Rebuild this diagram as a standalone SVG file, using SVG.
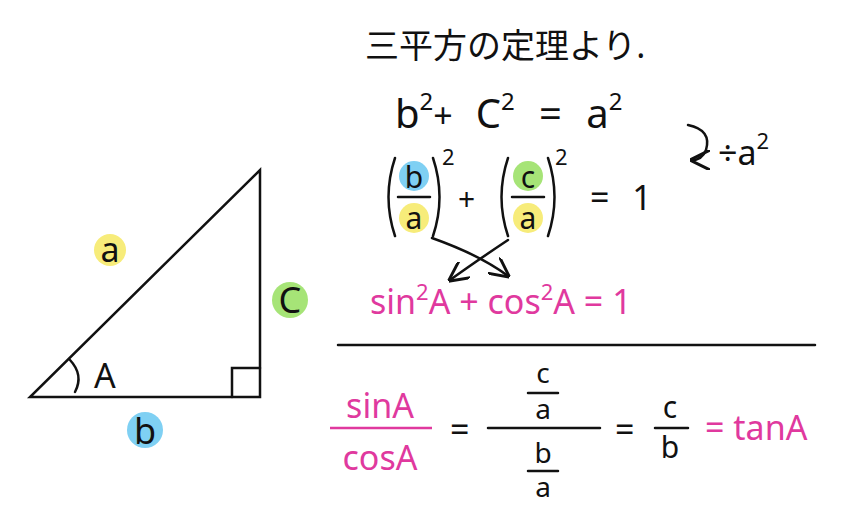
<svg xmlns="http://www.w3.org/2000/svg" width="848" height="510" viewBox="0 0 848 510">
<style>
.k{font-family:"Noto Sans","Noto Sans CJK JP",sans-serif;fill:#111}
.m{font-family:"Noto Sans",sans-serif;fill:#e0399e}
.ln{stroke:#111;stroke-width:2.5;fill:none;stroke-linecap:round}
.ml{stroke:#e0399e;stroke-width:2.5;fill:none}
</style>
<defs><marker id="ar" viewBox="0 0 10 10" refX="9" refY="5" markerWidth="8" markerHeight="8" orient="auto"><path d="M0,0L10,5L0,10" fill="none" stroke="#111" stroke-width="1.5"/></marker></defs>
<rect width="848" height="510" fill="#fff"/>
<g id="triangle">
<path class="ln" d="M30,397 L260,397 L260,170 Z"/>
<path class="ln" d="M232,397 V368 H260"/>
<path class="ln" d="M70,360 Q84,375 75,392"/>
<text class="k" x="94" y="388" font-size="34">A</text>
<circle cx="110" cy="250" r="16" fill="#f7ec7a"/><text class="k" x="110" y="262" font-size="34" text-anchor="middle">a</text>
<circle cx="290" cy="300" r="18" fill="#a6e477"/><text class="k" x="290" y="313" font-size="36" text-anchor="middle">C</text>
<circle cx="145" cy="430" r="18" fill="#7fd0f3"/><text class="k" x="145" y="444" font-size="36" text-anchor="middle">b</text>
</g>
<text class="k" x="365" y="58" font-size="34">三平方の定理より.</text>
<text class="k" x="395" y="128" font-size="40" word-spacing="14">b<tspan font-size="24" dy="-18">2</tspan><tspan dy="18" font-size="34">+ </tspan>C<tspan font-size="24" dy="-18">2</tspan><tspan dy="18"> = </tspan>a<tspan font-size="24" dy="-18">2</tspan></text>
<path class="ln" d="M688,125 Q712,130 706,150 Q702,160 692,160" marker-end="url(#ar)"/>
<text class="k" x="718" y="165" font-size="34">÷a<tspan font-size="22" dy="-16">2</tspan></text>
<g id="fractions">
<circle cx="414" cy="176" r="15" fill="#7fd0f3"/><circle cx="414" cy="218" r="15" fill="#f7ec7a"/>
<circle cx="528" cy="176" r="15" fill="#a6e477"/><circle cx="528" cy="218" r="15" fill="#f7ec7a"/>
<text class="k" x="414" y="188" font-size="30" text-anchor="middle">b</text>
<text class="k" x="414" y="229" font-size="30" text-anchor="middle">a</text>
<text class="k" x="528" y="188" font-size="30" text-anchor="middle">c</text>
<text class="k" x="528" y="229" font-size="30" text-anchor="middle">a</text>
<path class="ln" d="M398,197H430M512,197H544"/>
<path class="ln" d="M395,158Q382,197 395,236M433,158Q446,197 433,236M508,158Q495,197 508,236M548,158Q561,197 548,236"/>
<text class="k" x="442" y="165" font-size="22">2</text>
<text class="k" x="555" y="165" font-size="22">2</text>
<text class="k" x="458" y="210" font-size="30">+</text>
<text class="k" x="590" y="210" font-size="34" word-spacing="14">= 1</text>
</g>
<g id="connectors">
<path class="ln" d="M432,238 Q480,255 508,276" marker-end="url(#ar)"/>
<path class="ln" d="M508,240 Q475,262 450,280" marker-end="url(#ar)"/>
</g>
<text class="m" x="370" y="314" font-size="34">sin<tspan font-size="22" dy="-14">2</tspan><tspan dy="14">A + cos</tspan><tspan font-size="22" dy="-14">2</tspan><tspan dy="14">A = 1</tspan></text>
<path class="ln" stroke-width="1.5" d="M338,345H815"/>
<g id="bottom">
<text class="m" x="380" y="418" font-size="34" text-anchor="middle">sinA</text>
<path class="ml" d="M330,428H432"/>
<text class="m" x="380" y="470" font-size="34" text-anchor="middle">cosA</text>
<text class="k" x="450" y="442" font-size="34">=</text>
<text class="k" x="543" y="383" font-size="28" text-anchor="middle">c</text>
<path class="ln" stroke-width="2" d="M528,393H558"/>
<text class="k" x="543" y="419" font-size="28" text-anchor="middle">a</text>
<path class="ln" d="M488,428H600"/>
<text class="k" x="543" y="463" font-size="28" text-anchor="middle">b</text>
<path class="ln" stroke-width="2" d="M528,471H558"/>
<text class="k" x="543" y="497" font-size="28" text-anchor="middle">a</text>
<text class="k" x="615" y="442" font-size="34">=</text>
<text class="k" x="670" y="418" font-size="30" text-anchor="middle">c</text>
<path class="ln" stroke-width="2" d="M655,428H688"/>
<text class="k" x="670" y="458" font-size="30" text-anchor="middle">b</text>
<text class="m" x="705" y="440" font-size="34">= tanA</text>
</g>
</svg>
